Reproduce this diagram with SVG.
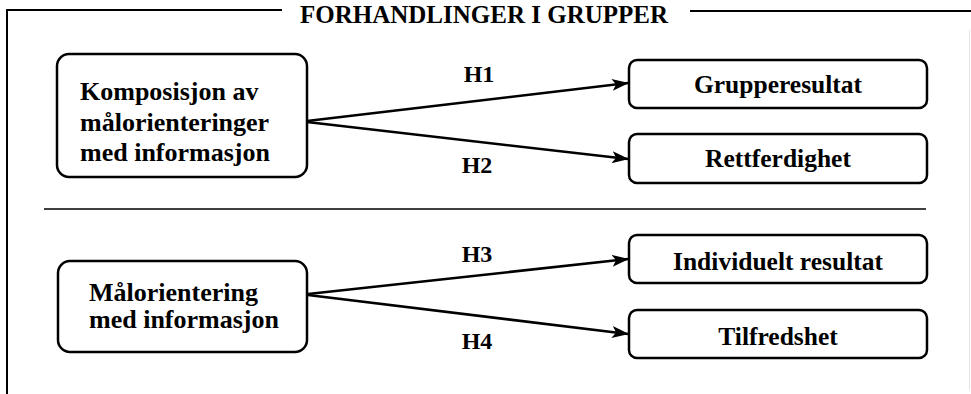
<svg xmlns="http://www.w3.org/2000/svg" width="971" height="394" viewBox="0 0 971 394">
  <style>
    text { font-family: "Liberation Serif", "Times New Roman", serif; font-weight: bold; fill: #000; }
    .box { fill: #fff; stroke: #000; stroke-width: 2.5; }
    .frame { fill: none; stroke: #000; stroke-width: 2; }
    .edge { fill: none; stroke: #000; stroke-width: 2.5; marker-end: url(#arrow); }
    .node { font-size: 26px; }
    .lbl { font-size: 24px; text-anchor: middle; }
    .res { font-size: 25.5px; text-anchor: middle; }
  </style>
  <defs>
    <marker id="arrow" viewBox="0 0 17 12" refX="16" refY="6" markerWidth="17" markerHeight="12" markerUnits="userSpaceOnUse" orient="auto">
      <path d="M0,0 L17,6 L0,12 L4,6 Z" fill="#000"/>
    </marker>
  </defs>

  <rect width="971" height="394" fill="#fff"/>

  <!-- outer frame with title -->
  <g id="frame">
    <path class="frame" d="M7,394 L7,10 L282,10"/>
    <path class="frame" d="M690,11 L971,11"/>
    <line x1="969.5" y1="30" x2="969.5" y2="390" stroke="#e4e4e4" stroke-width="1"/>
    <text x="300" y="23" font-size="26" textLength="368" lengthAdjust="spacingAndGlyphs">FORHANDLINGER I GRUPPER</text>
    <line x1="44" y1="209" x2="926" y2="209" stroke="#000" stroke-width="1.5"/>
  </g>

  <!-- connectors -->
  <g id="connectors">
    <line class="edge" x1="307" y1="121" x2="628" y2="83"/>
    <line class="edge" x1="307" y1="122" x2="628" y2="159"/>
    <line class="edge" x1="308" y1="294" x2="628" y2="259"/>
    <line class="edge" x1="308" y1="295" x2="628" y2="334"/>
    <text class="lbl" x="479" y="82">H1</text>
    <text class="lbl" x="477" y="173">H2</text>
    <text class="lbl" x="477" y="262">H3</text>
    <text class="lbl" x="477" y="349">H4</text>
  </g>

  <g id="komposisjon">
    <rect class="box" x="57" y="54" width="250" height="123" rx="12"/>
    <text class="node" x="80" y="100" font-size="27.5">Komposisjon av</text>
    <text class="node" x="80" y="131" font-size="27.5">målorienteringer</text>
    <text class="node" x="80" y="161" font-size="27.5">med informasjon</text>
  </g>

  <g id="malorientering">
    <rect class="box" x="58" y="261" width="249" height="91" rx="12"/>
    <text class="node" x="89" y="301">Målorientering</text>
    <text class="node" x="89" y="328">med informasjon</text>
  </g>

  <g id="grupperesultat">
    <rect class="box" x="629" y="60" width="298" height="48" rx="8"/>
    <text class="res" x="778" y="93">Grupperesultat</text>
  </g>

  <g id="rettferdighet">
    <rect class="box" x="629" y="134" width="298" height="49" rx="8"/>
    <text class="res" x="778" y="167">Rettferdighet</text>
  </g>

  <g id="individuelt">
    <rect class="box" x="629" y="235" width="298" height="48" rx="8"/>
    <text class="res" x="778" y="270">Individuelt resultat</text>
  </g>

  <g id="tilfredshet">
    <rect class="box" x="629" y="310" width="298" height="48" rx="8"/>
    <text class="res" x="778" y="345">Tilfredshet</text>
  </g>
</svg>
